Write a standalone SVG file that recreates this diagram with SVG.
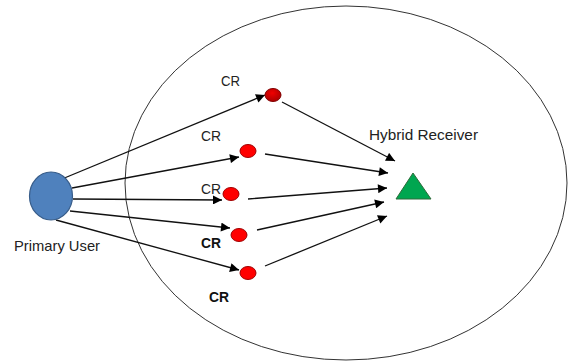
<svg xmlns="http://www.w3.org/2000/svg" width="568" height="363" viewBox="0 0 568 363">
<defs>
<style>
.t{font-family:"Liberation Sans",Arial,sans-serif;font-size:15px;fill:#222}
.b{font-weight:bold;fill:#111}
.ln{stroke:#111;stroke-width:1.3;fill:none;marker-end:url(#ah)}
.cr{fill:#ff0000;stroke:#a00000;stroke-width:1}
</style>
<marker id="ah" viewBox="0 0 10 10" refX="10" refY="5" markerWidth="10" markerHeight="9" markerUnits="userSpaceOnUse" orient="auto">
<path d="M0,0 L10,5 L0,10 Z" fill="#000"/>
</marker>
<radialGradient id="dg" cx="0.45" cy="0.35" r="0.75">
<stop offset="0" stop-color="#f00000"/>
<stop offset="1" stop-color="#a00000"/>
</radialGradient>
</defs>
<rect width="568" height="363" fill="#fff"/>
<g id="cell"><ellipse cx="346" cy="183" rx="221" ry="177" fill="none" stroke="#333" stroke-width="1"/></g>
<g id="connectors">
<line class="ln" x1="62" y1="179" x2="265" y2="95"/>
<line class="ln" x1="72" y1="188" x2="239" y2="157"/>
<line class="ln" x1="73" y1="199" x2="222" y2="200"/>
<line class="ln" x1="70" y1="211" x2="230" y2="228"/>
<line class="ln" x1="56" y1="220" x2="239" y2="270"/>
<line class="ln" x1="282" y1="102" x2="395" y2="161"/>
<line class="ln" x1="265" y1="154" x2="388" y2="173"/>
<line class="ln" x1="248" y1="199" x2="387" y2="188"/>
<line class="ln" x1="257" y1="230" x2="384" y2="202"/>
<line class="ln" x1="265" y1="266" x2="387" y2="216"/>
</g>
<g id="primary-user">
<ellipse cx="51" cy="196" rx="21.5" ry="24" fill="#4f81bd" stroke="#385d8a" stroke-width="1.2"/>
<text class="t" x="14" y="251" textLength="86" lengthAdjust="spacingAndGlyphs">Primary User</text>
</g>
<g id="cr1"><ellipse cx="273" cy="95" rx="8" ry="6.5" fill="url(#dg)" stroke="#800000"/><text class="t" x="221" y="86" textLength="19" lengthAdjust="spacingAndGlyphs">CR</text></g>
<g id="cr2"><ellipse class="cr" cx="248" cy="151" rx="8" ry="6.5"/><text class="t" x="201" y="141" textLength="20" lengthAdjust="spacingAndGlyphs">CR</text></g>
<g id="cr3"><ellipse class="cr" cx="231" cy="194" rx="8" ry="6.5"/><text class="t" x="201" y="194" textLength="20" lengthAdjust="spacingAndGlyphs">CR</text></g>
<g id="cr4"><ellipse class="cr" cx="239" cy="235" rx="8" ry="6.5"/><text class="t b" x="201" y="248" textLength="20" lengthAdjust="spacingAndGlyphs">CR</text></g>
<g id="cr5"><ellipse class="cr" cx="248" cy="273" rx="8" ry="6.5"/><text class="t b" x="209" y="302" textLength="20" lengthAdjust="spacingAndGlyphs">CR</text></g>
<g id="hybrid-receiver">
<polygon points="413,173 396,199 431,199" fill="#00a650" stroke="#2e6b3a" stroke-width="1"/>
<text class="t" x="369" y="140" textLength="109" lengthAdjust="spacingAndGlyphs">Hybrid Receiver</text>
</g>
</svg>
